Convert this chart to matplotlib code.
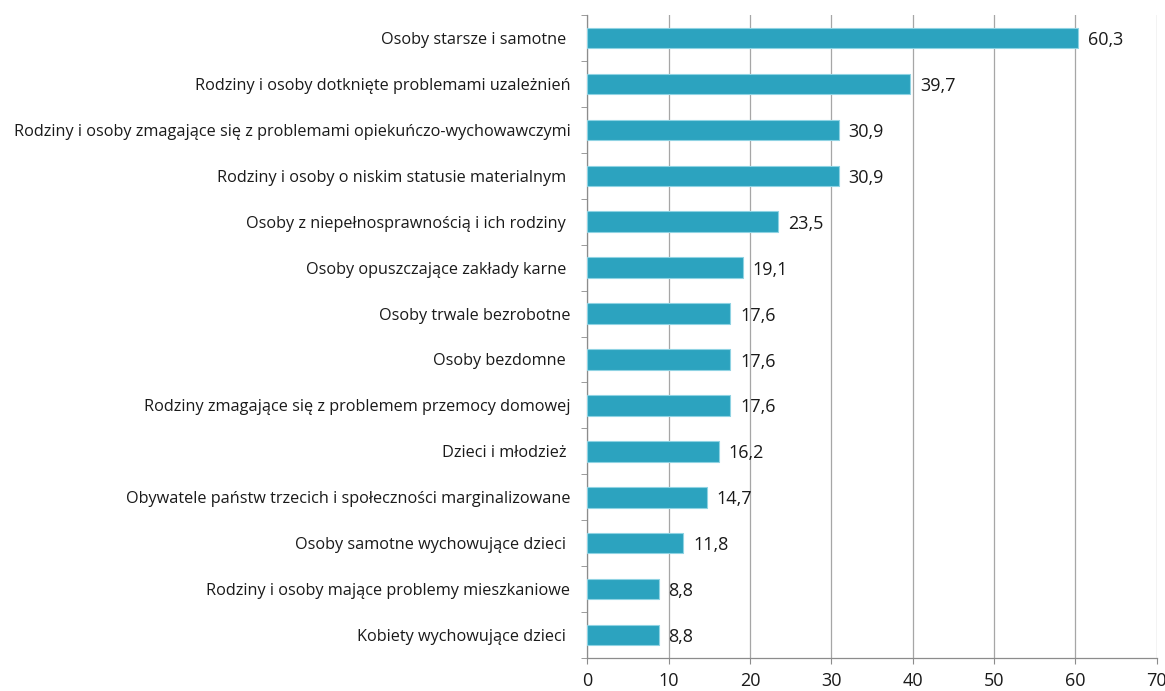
import numpy as np
import matplotlib
matplotlib.use("Agg")
import matplotlib.pyplot as plt
from matplotlib.ticker import FixedLocator

# ─── Data ────────────────────────────────────────────────────────────────────
categories = [
    "Osoby starsze i samotne ",
    "Rodziny i osoby dotknięte problemami uzależnień",
    "Rodziny i osoby zmagające się z problemami opiekuńczo-wychowawczymi",
    "Rodziny i osoby o niskim statusie materialnym ",
    "Osoby z niepełnosprawnością i ich rodziny ",
    "Osoby opuszczające zakłady karne ",
    "Osoby trwale bezrobotne",
    "Osoby bezdomne ",
    "Rodziny zmagające się z problemem przemocy domowej",
    "Dzieci i młodzież ",
    "Obywatele państw trzecich i społeczności marginalizowane",
    "Osoby samotne wychowujące dzieci ",
    "Rodziny i osoby mające problemy mieszkaniowe",
    "Kobiety wychowujące dzieci ",
]
values = [60.3, 39.7, 30.9, 30.9, 23.5, 19.1, 17.6, 17.6, 17.6, 16.2, 14.7, 11.8, 8.8, 8.8]
x_ticks = [0, 10, 20, 30, 40, 50, 60, 70]

plt.rcParams["font.family"] = ["Open Sans", "DejaVu Sans"]

fig = plt.figure(figsize=(11.65, 6.91), dpi=100)
ax = fig.add_axes([0.504, 0.048, 0.489, 0.930])

y = np.arange(len(categories))
ax.barh(y, values, height=0.45, color="#2CA3BF", edgecolor="#8FD3E3",
        linewidth=0.8, zorder=3)

for yi, v in zip(y, values):
    ax.annotate(f"{v:.1f}".replace(".", ","), (v, yi), xytext=(7, -1.5),
                textcoords="offset points", ha="left", va="center",
                fontsize=13, color="#1a1a1a")

ax.set_ylim(len(categories) - 0.5, -0.5)
ax.set_xlim(0, 70)
ax.set_xticks(x_ticks)
ax.set_xticklabels([str(t) for t in x_ticks], fontsize=13, color="#1a1a1a")
ax.set_yticks(y)
ax.set_yticklabels(categories, fontsize=11.7, color="#1a1a1a")
ax.yaxis.set_minor_locator(FixedLocator(np.arange(-0.5, len(categories), 1)))

ax.tick_params(axis="y", which="major", length=0, pad=12)
ax.tick_params(axis="y", which="minor", length=4, color="#8C8C8C")
ax.tick_params(axis="x", length=4, color="#8C8C8C", pad=6)

ax.grid(axis="x", color="#A6A6A6", linewidth=0.9, zorder=0)
for side in ("top", "right"):
    ax.spines[side].set_visible(False)
for side in ("left", "bottom"):
    ax.spines[side].set_color("#8C8C8C")
    ax.spines[side].set_linewidth(0.9)

fig.savefig("out.png", dpi=100)
